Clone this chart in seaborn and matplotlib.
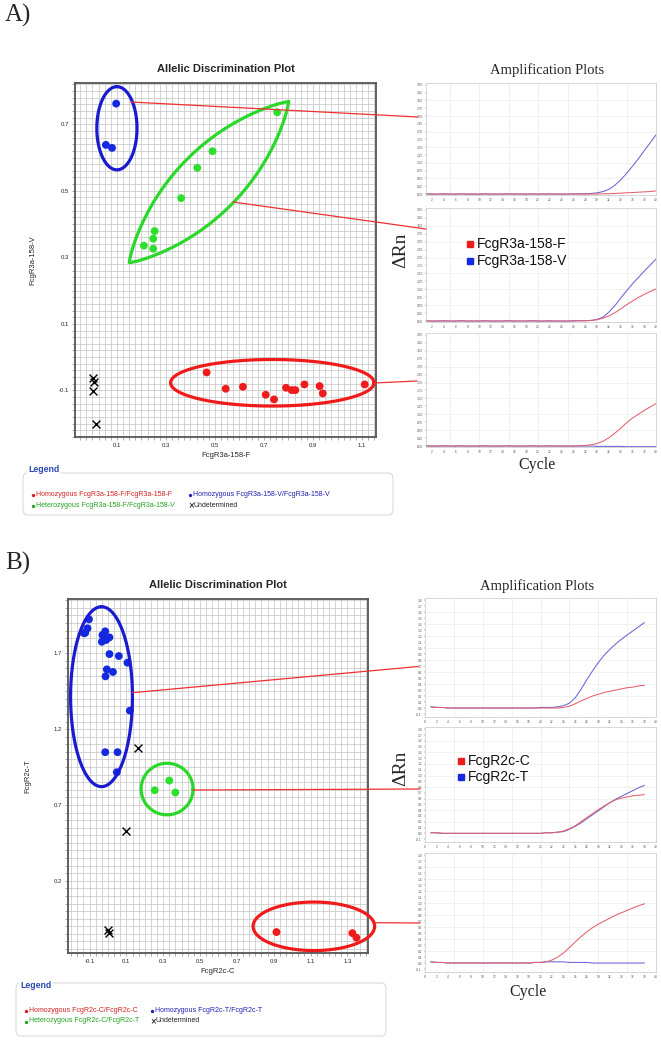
import numpy as np
import pandas as pd
import matplotlib
matplotlib.use("Agg")
import matplotlib.pyplot as plt
import seaborn as sns
from matplotlib.lines import Line2D
from matplotlib.patches import FancyBboxPatch
from matplotlib.ticker import FixedLocator, MultipleLocator

sns.set_style("white")
plt.rcParams["font.family"] = ["Liberation Sans", "DejaVu Sans"]

# ---------------- Panel A : allelic discrimination (FcgR3a-158) ----------------
a_groups = ["Homozygous FcgR3a-158-F/FcgR3a-158-F", "Homozygous FcgR3a-158-V/FcgR3a-158-V",
            "Heterozygous FcgR3a-158-F/FcgR3a-158-V", "Undetermined"]
a_ff_x = [0.466, 0.544, 0.614, 0.707, 0.741, 0.790, 0.813, 0.828, 0.865, 0.927, 0.940, 1.111]
a_ff_y = [-0.046, -0.095, -0.089, -0.113, -0.127, -0.092, -0.099, -0.099, -0.082, -0.087, -0.109, -0.082]
a_vv_x = [0.097, 0.055, 0.080]
a_vv_y = [0.762, 0.638, 0.629]
a_fv_x = [0.754, 0.490, 0.428, 0.362, 0.254, 0.248, 0.210, 0.248]
a_fv_y = [0.736, 0.619, 0.569, 0.478, 0.379, 0.356, 0.335, 0.326]
a_und_x = [0.003, 0.006, 0.003, 0.016]
a_und_y = [-0.062, -0.076, -0.103, -0.200]
a_xticks = [0.1, 0.3, 0.5, 0.7, 0.9, 1.1]
a_yticks = [-0.1, 0.1, 0.3, 0.5, 0.7]

# Panel A amplification plots (cycles 1..40)
a_cycles = list(range(1, 41))
a1_red = [0.00, 0.00, 0.00, 0.00, 0.00, 0.00, 0.00, 0.00, 0.00, 0.00,
          0.00, 0.00, 0.00, 0.00, 0.00, 0.00, 0.00, 0.00, 0.00, 0.00,
          0.00, 0.00, 0.00, 0.00, 0.00, 0.00, 0.00, 0.00, 0.00, 0.00,
          0.01, 0.01, 0.02, 0.03, 0.04, 0.05, 0.06, 0.07, 0.08, 0.10]
a1_blue = [0.01, 0.00, 0.00, 0.01, 0.00, 0.00, 0.01, 0.00, 0.00, 0.00,
           0.01, 0.00, 0.00, 0.00, 0.01, 0.00, 0.00, 0.00, 0.01, 0.00,
           0.00, 0.01, 0.00, 0.00, 0.00, 0.01, 0.01, 0.01, 0.02, 0.04,
           0.08, 0.15, 0.28, 0.45, 0.66, 0.89, 1.13, 1.39, 1.64, 1.90]
a2_red = [0.00, 0.00, 0.00, 0.00, 0.00, 0.00, 0.00, 0.00, 0.00, 0.00,
          0.00, 0.00, 0.00, 0.00, 0.00, 0.00, 0.00, 0.00, 0.00, 0.00,
          0.00, 0.00, 0.00, 0.00, 0.00, 0.00, 0.01, 0.01, 0.02, 0.04,
          0.09, 0.16, 0.26, 0.38, 0.51, 0.63, 0.74, 0.84, 0.93, 1.01]
a2_blue = [0.01, 0.00, 0.00, 0.01, 0.00, 0.00, 0.01, 0.00, 0.00, 0.00,
           0.01, 0.00, 0.00, 0.00, 0.01, 0.00, 0.00, 0.00, 0.01, 0.00,
           0.00, 0.01, 0.00, 0.00, 0.00, 0.01, 0.01, 0.01, 0.02, 0.05,
           0.12, 0.28, 0.48, 0.72, 0.95, 1.17, 1.37, 1.57, 1.76, 1.95]
a3_red = [0.00, 0.00, 0.00, 0.00, 0.00, 0.00, 0.00, 0.00, 0.00, 0.00,
          0.00, 0.00, 0.00, 0.00, 0.00, 0.00, 0.00, 0.00, 0.00, 0.00,
          0.00, 0.00, 0.00, 0.00, 0.00, 0.00, 0.01, 0.02, 0.04, 0.08,
          0.15, 0.26, 0.40, 0.56, 0.73, 0.88, 1.00, 1.12, 1.23, 1.34]
a3_blue = [0.01, 0.00, 0.00, 0.01, 0.00, 0.00, 0.01, 0.00, 0.00, 0.00,
           0.01, 0.00, 0.00, 0.00, 0.01, 0.00, 0.00, 0.00, 0.01, 0.00,
           0.00, 0.01, 0.00, 0.00, 0.00, 0.00, 0.00, 0.00, 0.00, -0.01,
           -0.01, -0.01, -0.01, -0.01, -0.02, -0.02, -0.02, -0.02, -0.02, -0.02]
a_amp_labels = ["FcgR3a-158-F", "FcgR3a-158-V"]

# ---------------- Panel B : allelic discrimination (FcgR2c) ----------------
b_groups = ["Homozygous FcgR2c-C/FcgR2c-C", "Homozygous FcgR2c-T/FcgR2c-T",
            "Heterozygous FcgR2c-C/FcgR2c-T", "Undetermined"]
b_cc_x = [0.915, 1.327, 1.349]
b_cc_y = [-0.138, -0.145, -0.175]
b_tt_x = [-0.123, -0.111, -0.103, -0.129, -0.033, -0.030, -0.015, -0.010, 0.008, 0.008,
          0.059, 0.106, -0.006, 0.027, -0.013, 0.119, -0.015, 0.052, 0.048]
b_tt_y = [1.836, 1.865, 1.924, 1.832, 1.776, 1.820, 1.845, 1.788, 1.805, 1.695,
          1.682, 1.638, 1.594, 1.577, 1.548, 1.322, 1.048, 1.048, 0.916]
b_ct_x = [0.254, 0.333, 0.366]
b_ct_y = [0.797, 0.861, 0.782]
b_und_x = [0.165, 0.099, -0.002, 0.003]
b_und_y = [1.078, 0.529, -0.127, -0.141]
b_xticks = [-0.1, 0.1, 0.3, 0.5, 0.7, 0.9, 1.1, 1.3]
b_yticks = [0.2, 0.7, 1.2, 1.7]

# Panel B amplification plots (cycles 1..38)
b_cycles = list(range(1, 39))
b1_red = [0.02, 0.01, 0.01, 0.00, 0.00, 0.00, 0.00, 0.00, 0.00, 0.00,
          0.00, 0.00, 0.00, 0.00, 0.00, 0.00, 0.00, 0.00, 0.00, 0.00,
          0.00, 0.00, 0.00, 0.01, 0.03, 0.07, 0.12, 0.16, 0.20, 0.23,
          0.26, 0.28, 0.30, 0.32, 0.34, 0.35, 0.37, 0.38]
b1_blue = [0.02, 0.01, 0.01, 0.00, 0.00, 0.00, 0.00, 0.00, 0.00, 0.00,
           0.00, 0.00, 0.00, 0.00, 0.00, 0.00, 0.00, 0.00, 0.00, 0.01,
           0.01, 0.01, 0.02, 0.04, 0.08, 0.17, 0.31, 0.47, 0.62, 0.76,
           0.88, 0.98, 1.07, 1.15, 1.22, 1.29, 1.36, 1.43]
b2_red = [0.01, 0.01, 0.00, 0.00, 0.00, 0.00, 0.00, 0.00, 0.00, 0.00,
          0.00, 0.00, 0.00, 0.00, 0.00, 0.00, 0.00, 0.00, 0.00, 0.00,
          0.01, 0.01, 0.02, 0.04, 0.08, 0.13, 0.20, 0.27, 0.34, 0.41,
          0.47, 0.53, 0.58, 0.61, 0.63, 0.65, 0.66, 0.67]
b2_blue = [0.01, 0.01, 0.00, 0.00, 0.00, 0.00, 0.00, 0.00, 0.00, 0.00,
           0.00, 0.00, 0.00, 0.00, 0.00, 0.00, 0.00, 0.00, 0.00, 0.00,
           0.01, 0.01, 0.02, 0.03, 0.07, 0.12, 0.18, 0.25, 0.32, 0.39,
           0.46, 0.53, 0.59, 0.64, 0.69, 0.74, 0.79, 0.83]
b3_red = [0.02, 0.01, 0.01, 0.00, 0.00, 0.00, 0.00, 0.00, 0.00, 0.00,
          0.00, 0.00, 0.00, 0.00, 0.00, 0.00, 0.00, 0.00, 0.01, 0.01,
          0.02, 0.05, 0.10, 0.17, 0.26, 0.35, 0.44, 0.52, 0.59, 0.65,
          0.70, 0.75, 0.80, 0.84, 0.88, 0.92, 0.96, 0.99]
b3_blue = [0.02, 0.01, 0.01, 0.00, 0.00, 0.00, 0.00, 0.00, 0.00, 0.00,
           0.00, 0.00, 0.00, 0.00, 0.00, 0.00, 0.00, 0.00, 0.01, 0.01,
           0.02, 0.02, 0.02, 0.02, 0.01, 0.01, 0.01, 0.01, 0.00, 0.00,
           0.00, 0.00, 0.00, 0.00, 0.00, 0.00, 0.00, 0.00]
b_amp_labels = ["FcgR2c-C", "FcgR2c-T"]

# ---------------- styling ----------------
W, H = 661, 1050
RED, BLUE, GREEN = "#ee1c1c", "#1428e0", "#2ee02e"
E_RED, E_BLUE, E_GREEN = "#f01a1a", "#1a1ad0", "#2ad82a"
C_RED, C_BLUE = "#e4606a", "#6a64d6"
SERIF = ["Liberation Serif", "DejaVu Serif"]

fig = plt.figure(figsize=(W / 100, H / 100), dpi=100)
fig.patch.set_facecolor("white")


def px_axes(l, t, r, b):
    return fig.add_axes([l / W, 1 - b / H, (r - l) / W, (b - t) / H])


def fx(x):
    return x / W


def fy(y):
    return 1 - y / H


def fig_line(x0, y0, x1, y1):
    fig.add_artist(Line2D([fx(x0), fx(x1)], [fy(y0), fy(y1)], transform=fig.transFigure,
                          color="#f03030", lw=0.9, zorder=30))


def draw_shape(ax, cx, cy, ux, uy, vx, vy, color, q=1.0, lw=2.3):
    t = np.linspace(0, 2 * np.pi, 500)
    c = np.cos(t)
    s = np.sin(t)
    s2 = np.sign(s) * np.abs(s) ** q
    ax.plot(cx + ux * c + vx * s2, cy + uy * c + vy * s2, color=color, lw=lw,
            clip_on=False, zorder=5, solid_joinstyle="round")


def scatter_panel(ax, groups, pts, und, xlim, ylim, xticks, yticks, xminor, yminor,
                  xlabel, ylabel, title):
    rows = []
    for g, (xs, ys) in zip(groups[:3], pts):
        for x, y in zip(xs, ys):
            rows.append({"x": x, "y": y, "g": g})
    df = pd.DataFrame(rows)
    pal = {groups[0]: RED, groups[1]: BLUE, groups[2]: GREEN}
    sns.scatterplot(data=df, x="x", y="y", hue="g", palette=pal, s=32, edgecolor="none",
                    legend=False, ax=ax, zorder=4)
    sns.scatterplot(x=und[0], y=und[1], marker="x", color="black", s=32, linewidth=1.0,
                    ax=ax, zorder=4)
    ax.set_xlim(*xlim)
    ax.set_ylim(*ylim)
    ax.xaxis.set_major_locator(FixedLocator(xticks))
    ax.yaxis.set_major_locator(FixedLocator(yticks))
    ax.xaxis.set_minor_locator(MultipleLocator(xminor))
    ax.yaxis.set_minor_locator(MultipleLocator(yminor))
    ax.set_xticklabels([f"{v:.1f}" for v in xticks])
    ax.set_yticklabels([f"{v:.1f}" for v in yticks])
    ax.grid(True, which="both", color="#c4c4c4", lw=0.5)
    ax.set_axisbelow(True)
    ax.tick_params(which="both", direction="out", length=2.5, width=0.5, color="#888888",
                   labelsize=4.3, pad=2, left=True, bottom=True)
    for sp in ax.spines.values():
        sp.set_color("#555555")
        sp.set_linewidth(1.3)
    ax.set_xlabel(xlabel, fontsize=5.5, labelpad=3)
    ax.set_ylabel(ylabel, fontsize=5.5, labelpad=16)
    ax.set_title(title, fontsize=8, fontweight="bold", pad=8)


def amp_panel(ax, cycles, red, blue, xlim, ylim, yticks, yfmt, xticks, xgrid, ygrid):
    n = len(cycles)
    df = pd.DataFrame({"cycle": list(cycles) * 2, "rn": list(blue) + list(red),
                       "allele": ["b"] * n + ["r"] * n})
    ax.vlines(xgrid, ylim[0], ylim[1], colors="#ececec", lw=0.5, zorder=0)
    ax.hlines(ygrid, xlim[0], xlim[1], colors="#ececec", lw=0.5, zorder=0)
    sns.lineplot(data=df, x="cycle", y="rn", hue="allele", palette={"b": C_BLUE, "r": C_RED},
                 lw=0.75, legend=False, errorbar=None, ax=ax)
    ax.set_xlim(*xlim)
    ax.set_ylim(*ylim)
    ax.set_xticks(xticks)
    ax.set_xticklabels([str(v) for v in xticks])
    ax.set_yticks(yticks)
    ax.set_yticklabels([yfmt.format(v) for v in yticks])
    ax.tick_params(labelsize=2.3, length=1, width=0.3, pad=1.2, colors="#555555",
                   left=True, bottom=True)
    ax.set_xlabel("")
    ax.set_ylabel("")
    for sp in ax.spines.values():
        sp.set_color("#c8c8c8")
        sp.set_linewidth(0.5)


def legend_box(l, t, r, b, title_x, title_y, entries):
    box = FancyBboxPatch((fx(l), fy(b)), fx(r) - fx(l), fy(t) - fy(b),
                         boxstyle="round,pad=0,rounding_size=0.006",
                         transform=fig.transFigure, facecolor="white",
                         edgecolor="#d0d0d0", lw=0.6, zorder=1)
    fig.add_artist(box)
    fig.text(fx(title_x), fy(title_y), "Legend", fontsize=6.3, fontweight="bold",
             color="#2a48b0", ha="left", va="center", zorder=3,
             bbox=dict(facecolor="white", edgecolor="none", pad=0.6))
    for (x, y, txt, col, mk) in entries:
        if mk == "o":
            fig.add_artist(Line2D([fx(x)], [fy(y + 0.5)], transform=fig.transFigure, marker="o",
                                  ms=2.4, color=col, mec="none", lw=0, zorder=3))
            fig.text(fx(x + 3), fy(y), txt, fontsize=5.0, color=col, ha="left", va="center")
        else:
            fig.text(fx(x - 2), fy(y), "\u00d7", fontsize=7, color="black", ha="left",
                     va="center")
            fig.text(fx(x + 3), fy(y), txt, fontsize=5.0, color="#222222", ha="left",
                     va="center")


# ================= PANEL A =================
fig.text(fx(5), fy(15), "A)", fontsize=18, family=SERIF, ha="left", va="center")

axA = px_axes(75, 83, 376, 437)
scatter_panel(axA, a_groups, [(a_ff_x, a_ff_y), (a_vv_x, a_vv_y), (a_fv_x, a_fv_y)],
              (a_und_x, a_und_y), (-0.071, 1.157), (-0.24, 0.824), a_xticks, a_yticks,
              0.025, 0.02, "FcgR3a-158-F", "FcgR3a-158-V", "Allelic Discrimination Plot")
# cluster outlines
draw_shape(axA, 0.100, 0.688, 0.0, 0.125, 0.082, 0.0, E_BLUE)
draw_shape(axA, 0.4755, 0.526, 0.325, 0.242, 0.092, -0.0670, E_GREEN, q=1.8)
draw_shape(axA, 0.734, -0.077, 0.415, 0.0, 0.0, 0.070, E_RED)

ampA = [px_axes(426, 83, 656, 195), px_axes(426, 208, 656, 322), px_axes(426, 333, 656, 447)]
a_ytick_vals = [i * 0.25 for i in range(15)]
for ax, r, b in zip(ampA, [a1_red, a2_red, a3_red], [a1_blue, a2_blue, a3_blue]):
    amp_panel(ax, a_cycles, r, b, (1, 40), (-0.03, 3.56), a_ytick_vals, "{:.2f}",
              list(range(2, 41, 2)), [5, 10, 15, 20, 25, 30, 35], [0.5, 1.0, 1.5, 2.0, 2.5, 3.0])

fig.text(fx(547), fy(70), "Amplification Plots", fontsize=10.5, family=SERIF,
         ha="center", va="center")
fig.text(fx(537), fy(465), "Cycle", fontsize=11.5, family=SERIF, ha="center", va="center")
fig.text(fx(401), fy(250), "\u0394Rn", fontsize=14, family=SERIF, rotation=90,
         ha="center", va="center")
for (lab, col, yy) in [(a_amp_labels[0], RED, 244), (a_amp_labels[1], BLUE, 261)]:
    fig.add_artist(Line2D([fx(470)], [fy(yy)], transform=fig.transFigure, marker="s", ms=5,
                          color=col, lw=0, zorder=5))
    fig.text(fx(477), fy(yy), lab, fontsize=10, color="#111111", ha="left", va="center",
             zorder=5)

fig_line(130.7, 102, 418, 117)
fig_line(233, 202, 426, 229)
fig_line(374, 383, 417, 381)

legend_box(23, 473, 393, 515, 28, 469,
           [(33, 494, a_groups[0], "#d42020", "o"), (190, 494, a_groups[1], "#2020b0", "o"),
            (33, 505, a_groups[2], "#20a020", "o"), (190, 505, a_groups[3], "k", "x")])

# ================= PANEL B =================
fig.text(fx(5), fy(563), "B)", fontsize=18, family=SERIF, ha="left", va="center")

axB = px_axes(68, 599, 368, 953)
scatter_panel(axB, b_groups, [(b_cc_x, b_cc_y), (b_tt_x, b_tt_y), (b_ct_x, b_ct_y)],
              (b_und_x, b_und_y), (-0.217, 1.412), (-0.276, 2.058), b_xticks, b_yticks,
              1 / 30, 0.05, "FcgR2c-C", "FcgR2c-T", "Allelic Discrimination Plot")
draw_shape(axB, -0.035, 1.414, 0.0, 0.593, 0.168, 0.0, E_BLUE)
draw_shape(axB, 0.321, 0.805, 0.141, 0.0, 0.0, 0.170, E_GREEN)
draw_shape(axB, 1.118, -0.100, 0.330, 0.0, 0.0, 0.160, E_RED)

ampB = [px_axes(425, 598, 656, 717), px_axes(425, 727, 656, 842), px_axes(425, 853, 656, 972)]
b_ytick_vals = [round(-0.1 + i * 0.1, 1) for i in range(20)]
for ax, r, b in zip(ampB, [b1_red, b2_red, b3_red], [b1_blue, b2_blue, b3_blue]):
    amp_panel(ax, b_cycles, r, b, (0, 40), (-0.15, 1.84), b_ytick_vals, "{:.1f}",
              list(range(0, 41, 2)), [5, 10, 15, 20, 25, 30, 35], [0.2, 0.4, 0.6, 0.8, 1.0, 1.2, 1.4, 1.6])

fig.text(fx(537), fy(586), "Amplification Plots", fontsize=10.5, family=SERIF,
         ha="center", va="center")
fig.text(fx(528), fy(992), "Cycle", fontsize=11.5, family=SERIF, ha="center", va="center")
fig.text(fx(401), fy(768), "\u0394Rn", fontsize=14, family=SERIF, rotation=90,
         ha="center", va="center")
for (lab, col, yy) in [(b_amp_labels[0], RED, 761), (b_amp_labels[1], BLUE, 777)]:
    fig.add_artist(Line2D([fx(461)], [fy(yy)], transform=fig.transFigure, marker="s", ms=5,
                          color=col, lw=0, zorder=5))
    fig.text(fx(468), fy(yy), lab, fontsize=10, color="#111111", ha="left", va="center",
             zorder=5)

fig_line(132.3, 692.7, 418, 666.5)
fig_line(193, 790, 420, 789)
fig_line(375, 922.7, 420, 923)

legend_box(16, 983, 386, 1036, 20, 985,
           [(26, 1010, b_groups[0], "#d42020", "o"), (152, 1010, b_groups[1], "#2020b0", "o"),
            (26, 1021, b_groups[2], "#20a020", "o"), (152, 1021, b_groups[3], "k", "x")])

fig.savefig("out.png", dpi=100, facecolor="white")
